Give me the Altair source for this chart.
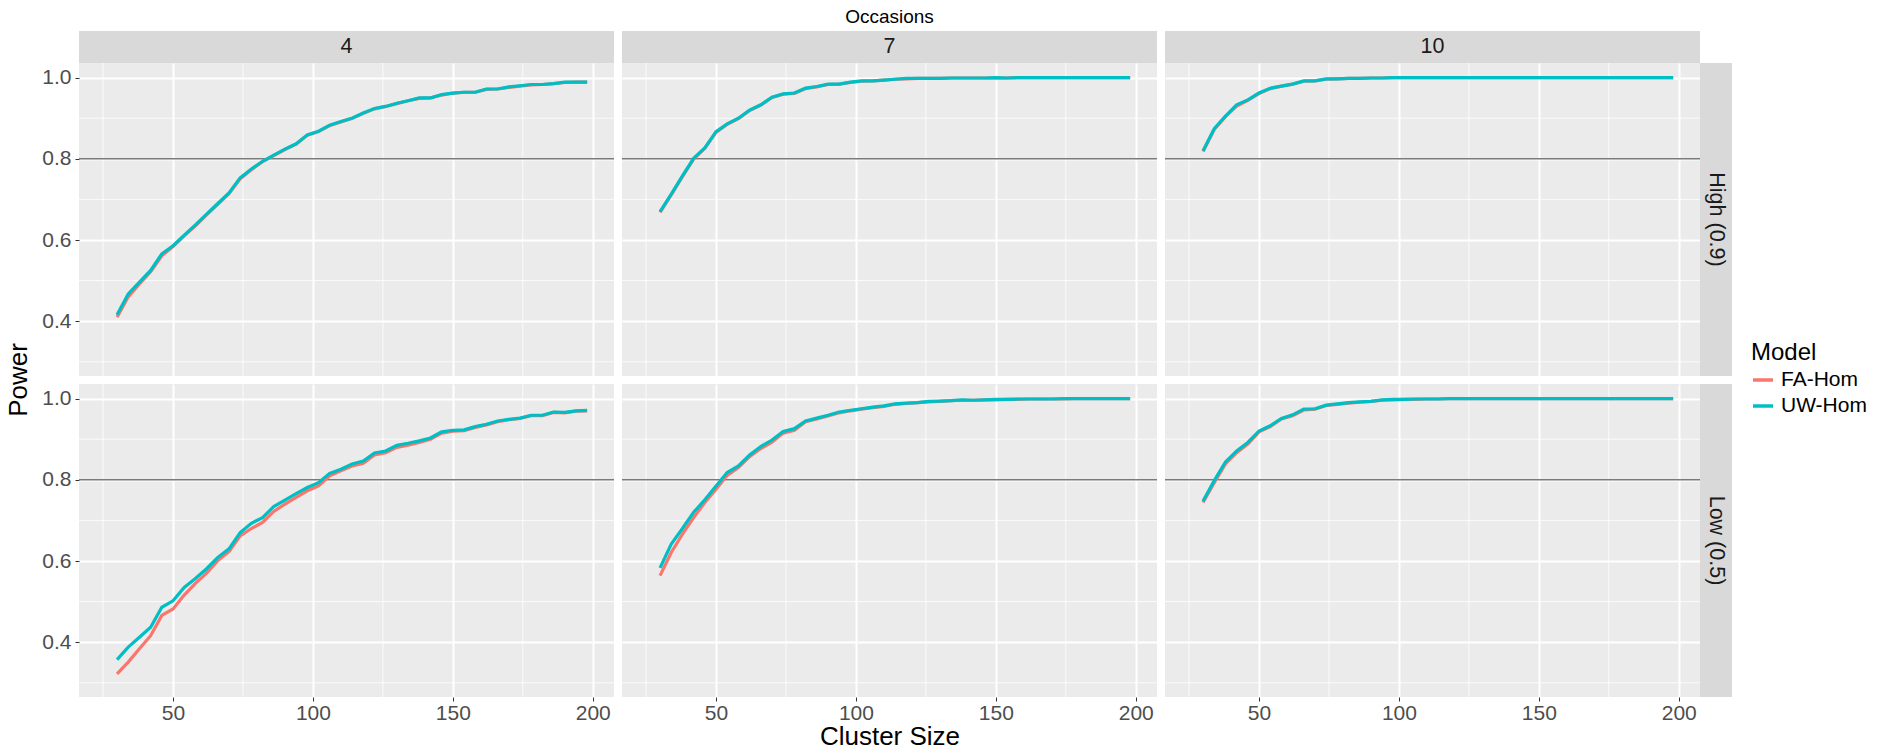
import altair as alt
import pandas as pd

FONT = "Liberation Sans"

CLUSTER = [30, 34, 38, 42, 46, 50, 54, 58, 62, 66, 70, 74, 78, 82, 86, 90, 94, 98,
           102, 106, 110, 114, 118, 122, 126, 130, 134, 138, 142, 146, 150, 154,
           158, 162, 166, 170, 174, 178, 182, 186, 190, 194, 198]
OCCASIONS = ["4", "7", "10"]
RELIABILITY = ["High (0.9)", "Low (0.5)"]
MODELS = ["FA-Hom", "UW-Hom"]
COLORS = ["#F8766D", "#00BFC4"]

HIGH_4_FA = [0.410, 0.460, 0.492, 0.522, 0.561, 0.584, 0.610, 0.635, 0.662, 0.688,
             0.714, 0.751, 0.773, 0.793, 0.808, 0.823, 0.836, 0.858, 0.867, 0.882,
             0.891, 0.900, 0.912, 0.923, 0.929, 0.936, 0.943, 0.949, 0.950, 0.957,
             0.962, 0.964, 0.964, 0.971, 0.972, 0.976, 0.979, 0.982, 0.983, 0.985,
             0.988, 0.989, 0.989]
HIGH_4_UW = [0.416, 0.467, 0.496, 0.525, 0.566, 0.586, 0.612, 0.637, 0.664, 0.690,
             0.716, 0.753, 0.775, 0.794, 0.809, 0.824, 0.837, 0.859, 0.868, 0.883,
             0.892, 0.900, 0.913, 0.924, 0.929, 0.937, 0.943, 0.950, 0.950, 0.958,
             0.962, 0.964, 0.964, 0.972, 0.972, 0.977, 0.980, 0.983, 0.983, 0.985,
             0.989, 0.989, 0.989]
LOW_4_FA = [0.322, 0.351, 0.384, 0.416, 0.466, 0.482, 0.516, 0.545, 0.570, 0.601,
            0.623, 0.662, 0.680, 0.695, 0.722, 0.740, 0.757, 0.773, 0.785, 0.810,
            0.822, 0.834, 0.841, 0.861, 0.867, 0.880, 0.885, 0.892, 0.900, 0.915,
            0.920, 0.921, 0.929, 0.935, 0.943, 0.948, 0.951, 0.958, 0.958, 0.966,
            0.965, 0.969, 0.970]
LOW_4_UW = [0.357, 0.388, 0.412, 0.437, 0.486, 0.502, 0.535, 0.557, 0.581, 0.609,
            0.630, 0.670, 0.693, 0.707, 0.734, 0.750, 0.766, 0.781, 0.793, 0.816,
            0.826, 0.839, 0.846, 0.866, 0.871, 0.885, 0.890, 0.896, 0.903, 0.918,
            0.922, 0.923, 0.931, 0.937, 0.945, 0.949, 0.952, 0.959, 0.959, 0.967,
            0.966, 0.970, 0.971]
HIGH_7_FA = [0.668, 0.711, 0.756, 0.799, 0.826, 0.865, 0.885, 0.899, 0.919, 0.932,
             0.951, 0.959, 0.961, 0.973, 0.977, 0.983, 0.984, 0.988, 0.991, 0.992,
             0.994, 0.996, 0.997, 0.998, 0.998, 0.998, 0.999, 0.999, 0.999, 0.999,
             0.999, 0.999, 1.000, 1.000, 1.000, 1.000, 1.000, 1.000, 1.000, 1.000,
             1.000, 1.000, 1.000]
HIGH_7_UW = [0.670, 0.713, 0.758, 0.801, 0.827, 0.867, 0.886, 0.900, 0.920, 0.933,
             0.952, 0.960, 0.962, 0.974, 0.978, 0.984, 0.984, 0.989, 0.992, 0.992,
             0.994, 0.996, 0.998, 0.998, 0.998, 0.998, 0.999, 0.999, 0.999, 0.999,
             1.000, 0.999, 1.000, 1.000, 1.000, 1.000, 1.000, 1.000, 1.000, 1.000,
             1.000, 1.000, 1.000]
LOW_7_FA = [0.564, 0.621, 0.666, 0.707, 0.744, 0.777, 0.811, 0.830, 0.857, 0.877,
            0.893, 0.915, 0.922, 0.943, 0.950, 0.957, 0.965, 0.970, 0.974, 0.978,
            0.981, 0.986, 0.988, 0.990, 0.992, 0.993, 0.995, 0.996, 0.996, 0.997,
            0.997, 0.998, 0.998, 0.999, 0.999, 0.999, 0.999, 1.000, 1.000, 1.000,
            1.000, 1.000, 1.000]
LOW_7_UW = [0.583, 0.642, 0.680, 0.720, 0.751, 0.785, 0.818, 0.834, 0.861, 0.882,
            0.898, 0.919, 0.926, 0.945, 0.952, 0.959, 0.967, 0.971, 0.975, 0.979,
            0.982, 0.987, 0.989, 0.990, 0.993, 0.994, 0.995, 0.997, 0.996, 0.997,
            0.998, 0.998, 0.999, 0.999, 0.999, 0.999, 1.000, 1.000, 1.000, 1.000,
            1.000, 1.000, 1.000]
HIGH_10_FA = [0.818, 0.872, 0.904, 0.930, 0.944, 0.961, 0.973, 0.979, 0.984, 0.991,
              0.992, 0.996, 0.997, 0.998, 0.998, 0.999, 0.999, 1.000, 1.000, 1.000,
              1.000, 1.000, 1.000, 1.000, 1.000, 1.000, 1.000, 1.000, 1.000, 1.000,
              1.000, 1.000, 1.000, 1.000, 1.000, 1.000, 1.000, 1.000, 1.000, 1.000,
              1.000, 1.000, 1.000]
HIGH_10_UW = [0.820, 0.874, 0.905, 0.933, 0.945, 0.962, 0.974, 0.979, 0.984, 0.992,
              0.992, 0.997, 0.997, 0.998, 0.998, 0.999, 0.999, 1.000, 1.000, 1.000,
              1.000, 1.000, 1.000, 1.000, 1.000, 1.000, 1.000, 1.000, 1.000, 1.000,
              1.000, 1.000, 1.000, 1.000, 1.000, 1.000, 1.000, 1.000, 1.000, 1.000,
              1.000, 1.000, 1.000]
LOW_10_FA = [0.744, 0.793, 0.839, 0.867, 0.888, 0.918, 0.931, 0.950, 0.958, 0.972,
             0.974, 0.983, 0.986, 0.989, 0.991, 0.993, 0.996, 0.997, 0.998, 0.998,
             0.999, 0.999, 1.000, 1.000, 1.000, 1.000, 1.000, 1.000, 1.000, 1.000,
             1.000, 1.000, 1.000, 1.000, 1.000, 1.000, 1.000, 1.000, 1.000, 1.000,
             1.000, 1.000, 1.000]
LOW_10_UW = [0.748, 0.798, 0.844, 0.871, 0.892, 0.920, 0.933, 0.951, 0.960, 0.974,
             0.975, 0.984, 0.987, 0.990, 0.992, 0.993, 0.997, 0.998, 0.998, 0.999,
             0.999, 0.999, 1.000, 1.000, 1.000, 1.000, 1.000, 1.000, 1.000, 1.000,
             1.000, 1.000, 1.000, 1.000, 1.000, 1.000, 1.000, 1.000, 1.000, 1.000,
             1.000, 1.000, 1.000]

SERIES = {
    ("High (0.9)", "4"): (HIGH_4_FA, HIGH_4_UW),
    ("High (0.9)", "7"): (HIGH_7_FA, HIGH_7_UW),
    ("High (0.9)", "10"): (HIGH_10_FA, HIGH_10_UW),
    ("Low (0.5)", "4"): (LOW_4_FA, LOW_4_UW),
    ("Low (0.5)", "7"): (LOW_7_FA, LOW_7_UW),
    ("Low (0.5)", "10"): (LOW_10_FA, LOW_10_UW),
}

X_MAJOR = [50, 100, 150, 200]
X_MINOR = [25, 75, 125, 175]
Y_MAJOR = [0.4, 0.6, 0.8, 1.0]
Y_MINOR = [0.3, 0.5, 0.7, 0.9]
REF_LINE = [0.8]

W, H = 535, 313
STRIP = 32

xscale = alt.Scale(domain=[16.4, 207.6], nice=False, zero=False)
yscale = alt.Scale(domain=[0.265, 1.036], nice=False, zero=False)
cscale = alt.Scale(domain=MODELS, range=COLORS)


def panel(ri, ci):
    rel, occ = RELIABILITY[ri], OCCASIONS[ci]
    fa, uw = SERIES[(rel, occ)]
    rows = []
    for model, vals in zip(MODELS, (fa, uw)):
        for x, p in zip(CLUSTER, vals):
            rows.append({"Model": model, "ClusterSize": x, "Power": p})
    df = pd.DataFrame(rows)

    show_x = ri == 1
    show_y = ci == 0
    xaxis = alt.Axis(values=X_MAJOR, grid=True, gridColor="white", gridWidth=2,
                     labels=show_x, ticks=show_x, domain=False,
                     labelFontSize=21, labelColor="#4D4D4D", labelFont=FONT,
                     tickColor="#333333", tickSize=4, tickWidth=1, labelPadding=1,
                     titleFontSize=26, titleFont=FONT, titleColor="black",
                     titleFontWeight="normal", titlePadding=0)
    yaxis = alt.Axis(values=Y_MAJOR, format=".1f", grid=True, gridColor="white",
                     gridWidth=2, labels=show_y, ticks=show_y, domain=False,
                     labelFontSize=21, labelColor="#4D4D4D", labelFont=FONT,
                     tickColor="#333333", tickSize=4, tickWidth=1, labelPadding=4)
    xtitle = "Cluster Size" if (show_x and ci == 1) else None

    def X(field):
        return alt.X(field, scale=xscale, axis=xaxis, title=xtitle)

    def Y(field):
        return alt.Y(field, scale=yscale, axis=yaxis, title=None)

    legend = None
    if ri == 1 and ci == 2:
        legend = alt.Legend(title="Model", orient="none", legendX=586, legendY=-43,
                            titleFontSize=24, titleFont=FONT, titleColor="black",
                            titleFontWeight="normal", titlePadding=3,
                            labelFontSize=21, labelFont=FONT, labelColor="black",
                            symbolType="stroke", symbolSize=400, symbolStrokeWidth=3.5,
                            rowPadding=4, labelOffset=6, padding=0)

    minor_x = alt.Chart(pd.DataFrame({"v": X_MINOR})).mark_rule(
        color="white", strokeWidth=1, opacity=0.8).encode(x=X("v:Q"))
    minor_y = alt.Chart(pd.DataFrame({"v": Y_MINOR})).mark_rule(
        color="white", strokeWidth=1, opacity=0.8).encode(y=Y("v:Q"))
    ref = alt.Chart(pd.DataFrame({"v": REF_LINE})).mark_rule(
        color="#7A7A7A", strokeWidth=1.6).encode(y=Y("v:Q"))
    lines = alt.Chart(df).mark_line(strokeWidth=3.2).encode(
        x=X("ClusterSize:Q"),
        y=Y("Power:Q"),
        color=alt.Color("Model:N", scale=cscale, legend=legend),
        order=alt.Order("ClusterSize:Q"),
    )
    layers = [minor_x, minor_y, ref, lines]

    if ri == 0:
        sdf = pd.DataFrame({"label": [occ]})
        layers.append(alt.Chart(sdf).mark_rect(color="#D9D9D9").encode(
            x=alt.value(0), x2=alt.value(W), y=alt.value(-STRIP), y2=alt.value(0)))
        layers.append(alt.Chart(sdf).mark_text(
            font=FONT, fontSize=21.5, color="#1A1A1A", baseline="middle", align="center").encode(
            x=alt.value(W / 2), y=alt.value(-STRIP / 2), text="label:N"))
        if ci == 1:
            tdf = pd.DataFrame({"label": ["Occasions"]})
            layers.append(alt.Chart(tdf).mark_text(
                font=FONT, fontSize=19, color="black", baseline="middle", align="center").encode(
                x=alt.value(W / 2), y=alt.value(-46), text="label:N"))
    if ci == 2:
        rdf = pd.DataFrame({"label": [rel]})
        layers.append(alt.Chart(rdf).mark_rect(color="#D9D9D9").encode(
            x=alt.value(W), x2=alt.value(W + STRIP), y=alt.value(0), y2=alt.value(H)))
        layers.append(alt.Chart(rdf).mark_text(
            font=FONT, fontSize=21.5, color="#1A1A1A", baseline="middle", align="center",
            angle=90).encode(
            x=alt.value(W + STRIP / 2), y=alt.value(H / 2), text="label:N"))
    if ri == 1 and ci == 0:
        pdf = pd.DataFrame({"label": ["Power"]})
        layers.append(alt.Chart(pdf).mark_text(
            font=FONT, fontSize=26, color="black", baseline="middle", align="center",
            angle=270).encode(
            x=alt.value(-60), y=alt.value(-4), text="label:N"))

    return alt.layer(*layers).properties(width=W, height=H)


panels = [panel(ri, ci) for ri in range(2) for ci in range(3)]

chart = alt.concat(*panels, columns=3, spacing=8, bounds="flush").resolve_scale(
    color="independent"
).properties(
    padding={"left": -3, "top": 0, "right": 5, "bottom": 0}
).configure_view(
    fill="#EBEBEB", stroke=None
)

chart.save("out.html", embed_options={"renderer": "svg", "actions": False})
